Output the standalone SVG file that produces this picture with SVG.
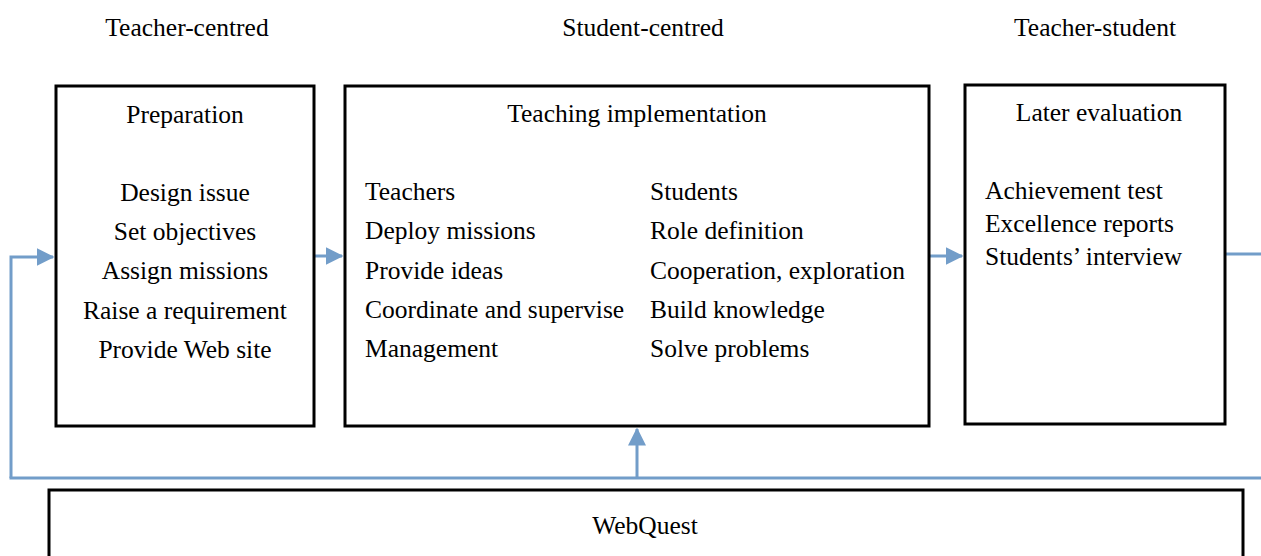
<svg xmlns="http://www.w3.org/2000/svg" width="1261" height="556" viewBox="0 0 1261 556">
  <style>
    .box { fill: #ffffff; stroke: #000000; stroke-width: 3; }
    .t { font-family: "Liberation Serif", "Times New Roman", serif; font-size: 25.5px; fill: #000000; }
    .c { text-anchor: middle; }
    .link { fill: none; stroke: #729dc9; stroke-width: 3; }
  </style>
  <defs>
    <marker id="arrow" markerWidth="6" markerHeight="6" refX="5.5" refY="3" orient="auto" markerUnits="strokeWidth">
      <path d="M0,0 L6,3 L0,6 Z" fill="#729dc9"/>
    </marker>
  </defs>

  <rect width="1261" height="556" fill="#ffffff"/>

  <!-- phase headings -->
  <g id="headings">
    <text class="t c" x="187" y="36">Teacher-centred</text>
    <text class="t c" x="643" y="36">Student-centred</text>
    <text class="t c" x="1095" y="36">Teacher-student</text>
  </g>

  <!-- connectors -->
  <g id="connectors">
    <path class="link" d="M11,478 L11,257 L53,257" marker-end="url(#arrow)"/>
    <path class="link" d="M315,256 L342,256" marker-end="url(#arrow)"/>
    <path class="link" d="M929,256 L962,256" marker-end="url(#arrow)"/>
    <path class="link" d="M1226,254 L1261,254"/>
    <path class="link" d="M9.5,478 L1261,478"/>
    <path class="link" d="M637,478 L637,429" marker-end="url(#arrow)"/>
  </g>

  <g id="preparation">
    <rect class="box" x="56" y="86" width="258" height="340"/>
    <text class="t c" x="185" y="123">Preparation</text>
    <text class="t c" x="185" y="201">Design issue</text>
    <text class="t c" x="185" y="240">Set objectives</text>
    <text class="t c" x="185" y="279">Assign missions</text>
    <text class="t c" x="185" y="319">Raise a requirement</text>
    <text class="t c" x="185" y="358">Provide Web site</text>
  </g>

  <g id="implementation">
    <rect class="box" x="345" y="86" width="584" height="340"/>
    <text class="t c" x="637" y="122">Teaching implementation</text>
    <text class="t" x="365" y="200">Teachers</text>
    <text class="t" x="365" y="239">Deploy missions</text>
    <text class="t" x="365" y="279">Provide ideas</text>
    <text class="t" x="365" y="318">Coordinate and supervise</text>
    <text class="t" x="365" y="357">Management</text>
    <text class="t" x="650" y="200">Students</text>
    <text class="t" x="650" y="239">Role definition</text>
    <text class="t" x="650" y="279">Cooperation, exploration</text>
    <text class="t" x="650" y="318">Build knowledge</text>
    <text class="t" x="650" y="357">Solve problems</text>
  </g>

  <g id="evaluation">
    <rect class="box" x="965" y="85" width="260" height="339"/>
    <text class="t c" x="1099" y="121">Later evaluation</text>
    <text class="t" x="985" y="199">Achievement test</text>
    <text class="t" x="985" y="232">Excellence reports</text>
    <text class="t" x="985" y="265">Students’ interview</text>
  </g>

  <g id="webquest">
    <rect class="box" x="49" y="490" width="1194" height="80"/>
    <text class="t c" x="645" y="534">WebQuest</text>
  </g>
</svg>
